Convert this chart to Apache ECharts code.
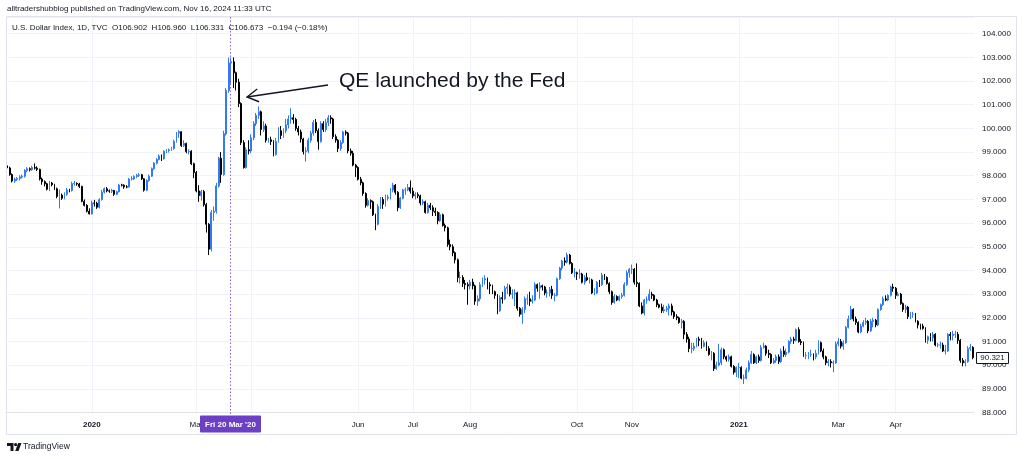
<!DOCTYPE html>
<html>
<head>
<meta charset="utf-8">
<script src="https://cdn.jsdelivr.net/npm/echarts/dist/echarts.min.js"></script>
<style>
html,body{margin:0;padding:0;background:#fff;}
#c{width:1024px;height:459px;}
</style>
</head>
<body>
<div id="c"></div>
<script>
// ---- DATA: daily candles [open, close, low, high], one small array per month ----
const nov2019 = [
[98.42,98.33,98.22,98.48],[98.33,98.05,98.00,98.38],[98.05,97.78,97.72,98.10],[97.78,97.85,97.70,97.92],
[97.85,97.88,97.78,97.95],[97.88,97.95,97.80,98.02],[97.95,97.98,97.88,98.05],[97.98,98.22,97.92,98.28],
[98.22,98.30,98.15,98.36],[98.30,98.26,98.18,98.35],[98.26,98.35,98.20,98.42],[98.35,98.32,98.26,98.52],
[98.32,98.27,98.20,98.40]];
const dec2019 = [
[98.27,97.86,97.80,98.30],[97.86,97.75,97.62,97.92],[97.75,97.66,97.55,97.80],[97.66,97.43,97.38,97.70],
[97.43,97.69,97.35,97.78],[97.69,97.62,97.55,97.74],[97.62,97.45,97.40,97.66],[97.45,97.12,97.05,97.50],
[97.12,97.18,96.62,97.42],[97.18,97.05,96.98,97.25],[97.05,97.22,97.00,97.30],[97.22,97.40,97.15,97.48],
[97.40,97.38,97.30,97.45],[97.38,97.66,97.33,97.75],[97.66,97.68,97.58,97.78],[97.68,97.65,97.58,97.72],
[97.65,97.55,97.48,97.70],[97.55,96.92,96.88,97.58],[96.92,96.75,96.70,97.00],[96.75,96.50,96.45,96.80],
[96.50,96.39,96.36,96.62]];
const jan2020 = [
[96.39,96.85,96.36,96.95],[96.85,96.84,96.70,96.98],[96.84,96.67,96.60,96.90],[96.67,96.99,96.62,97.05],
[96.99,97.31,96.95,97.40],[97.31,97.45,97.25,97.50],[97.45,97.36,97.30,97.52],[97.36,97.35,97.28,97.42],
[97.35,97.38,97.27,97.45],[97.38,97.22,97.15,97.40],[97.22,97.32,97.18,97.37],[97.32,97.61,97.30,97.66],
[97.61,97.60,97.55,97.66],[97.60,97.53,97.45,97.64],[97.53,97.52,97.47,97.60],[97.52,97.86,97.50,97.90],
[97.86,97.87,97.80,97.98],[97.87,97.97,97.82,98.02],[97.97,98.02,97.90,98.08],[98.02,98.04,97.95,98.12],
[98.04,97.87,97.82,98.08],[97.87,97.39,97.33,97.90]];
const feb2020 = [
[97.39,97.80,97.35,97.85],[97.80,97.98,97.75,98.05],[97.98,98.30,97.95,98.35],[98.30,98.53,98.25,98.58],
[98.53,98.69,98.48,98.74],[98.69,98.83,98.65,98.90],[98.83,98.72,98.62,98.90],[98.72,99.03,98.68,99.08],
[99.03,99.06,98.95,99.12],[99.06,99.10,98.98,99.15],[99.10,99.15,99.05,99.22],[99.15,99.45,99.10,99.52],
[99.45,99.80,99.40,99.85],[99.80,99.86,99.60,99.92],[99.86,99.27,99.22,99.88],[99.27,99.36,99.22,99.50],
[99.36,99.02,98.95,99.40],[99.02,99.03,98.90,99.12],[99.03,98.51,98.45,99.08],[98.51,98.13,97.90,98.55]];
const mar2020 = [
[98.13,97.36,97.30,98.20],[97.36,97.16,96.90,97.60],[97.16,97.33,96.95,97.40],[97.33,96.78,96.70,97.40],
[96.78,95.95,95.60,96.85],[95.95,94.90,94.65,96.00],[94.90,96.45,94.80,96.55],[96.45,96.50,96.10,96.70],
[96.50,97.57,96.40,97.70],[97.57,98.74,97.50,98.80],[98.74,98.05,97.70,99.00],[98.05,99.77,98.00,99.90],
[99.77,101.60,99.70,101.70],[101.60,102.76,101.50,102.99],[102.76,102.82,101.90,102.99],[102.82,102.35,101.70,103.00],
[102.35,101.95,101.60,102.40],[101.95,101.05,100.90,102.10],[101.05,99.40,99.30,101.10],[99.40,98.35,98.30,99.50],
[98.35,99.10,98.30,99.20],[99.10,99.05,98.90,99.50]];
const apr2020 = [
[99.05,99.60,98.95,99.75],[99.60,100.20,99.50,100.30],[100.20,100.55,100.10,100.65],[100.55,100.70,100.40,100.93],
[100.70,99.95,99.70,100.75],[99.95,100.10,99.85,100.30],[100.10,99.50,99.40,100.20],[99.50,99.52,99.40,99.60],
[99.52,99.45,99.30,99.65],[99.45,98.90,98.82,99.50],[98.90,99.45,98.85,99.60],[99.45,99.90,99.40,100.05],
[99.90,99.70,99.55,100.10],[99.70,99.90,99.60,100.00],[99.90,100.15,99.80,100.40],[100.15,100.40,100.00,100.55],
[100.40,100.45,100.20,100.85],[100.45,100.38,100.20,100.60],[100.38,100.00,99.90,100.45],[100.00,99.85,99.70,100.10],
[99.85,99.55,99.40,99.95],[99.55,99.02,98.90,99.60]];
const may2020 = [
[99.02,99.05,98.60,99.20],[99.05,99.50,98.95,99.60],[99.50,99.80,99.40,99.90],[99.80,100.25,99.70,100.35],
[100.25,99.90,99.80,100.40],[99.90,99.45,99.10,100.00],[99.45,100.20,99.40,100.30],[100.20,99.95,99.85,100.30],
[99.95,100.25,99.85,100.40],[100.25,100.45,100.10,100.56],[100.45,100.40,100.20,100.55],[100.40,99.65,99.55,100.45],
[99.65,99.50,99.40,99.75],[99.50,99.15,99.00,99.55],[99.15,99.40,99.05,99.50],[99.40,99.85,99.35,99.90],
[99.85,99.80,99.70,99.92],[99.80,99.05,98.95,99.85],[99.05,98.95,98.85,99.15],[98.95,98.45,98.40,99.05],
[98.45,98.35,97.95,98.50]];
const jun2020 = [
[98.35,97.85,97.80,98.40],[97.85,97.70,97.60,97.95],[97.70,97.25,97.15,97.75],[97.25,96.75,96.65,97.30],
[96.75,96.95,96.70,97.05],[96.95,96.90,96.60,97.00],[96.90,96.35,96.30,96.95],[96.35,95.95,95.70,96.40],
[95.95,96.70,95.90,96.80],[96.70,97.00,96.60,97.10],[97.00,96.80,96.60,97.10],[96.80,97.05,96.70,97.20],
[97.05,97.10,96.95,97.20],[97.10,97.40,97.00,97.48],[97.40,97.60,97.30,97.70],[97.60,97.30,97.20,97.65],
[97.30,96.65,96.50,97.35],[96.65,97.05,96.60,97.10],[97.05,97.40,97.00,97.45],[97.40,97.40,97.20,97.50],
[97.40,97.50,97.35,97.65],[97.50,97.35,97.25,97.80]];
const jul2020 = [
[97.35,97.15,97.05,97.50],[97.15,97.20,97.00,97.30],[97.20,97.15,97.05,97.30],[97.15,96.85,96.75,97.20],
[96.85,96.90,96.75,97.00],[96.90,96.45,96.40,96.95],[96.45,96.75,96.40,96.85],[96.75,96.65,96.55,96.85],
[96.65,96.50,96.30,96.75],[96.50,96.45,96.30,96.65],[96.45,96.10,95.95,96.50],[96.10,96.35,96.05,96.45],
[96.35,95.90,95.85,96.40],[95.90,95.80,95.65,95.98],[95.80,95.10,95.00,95.85],[95.10,95.00,94.85,95.30],
[95.00,94.75,94.60,95.10],[94.75,94.45,94.30,94.80],[94.45,93.70,93.50,94.50],[93.70,93.70,93.45,93.95],
[93.70,93.45,93.30,93.80],[93.45,93.40,93.20,93.60],[93.40,93.35,92.55,93.50]];
const aug2020 = [
[93.35,93.50,93.20,93.60],[93.50,93.35,93.20,93.65],[93.35,92.70,92.55,93.40],[92.70,92.80,92.50,92.95],
[92.80,93.40,92.70,93.50],[93.40,93.60,93.30,93.70],[93.60,93.65,93.40,93.80],[93.65,93.40,93.20,93.70],
[93.40,93.35,93.00,93.50],[93.35,93.10,93.00,93.40],[93.10,92.95,92.80,93.15],[92.95,92.30,92.15,93.00],
[92.30,92.85,92.25,92.95],[92.85,92.80,92.60,93.10],[92.80,93.25,92.75,93.35],[93.25,93.30,93.00,93.45],
[93.30,93.00,92.90,93.40],[93.00,93.00,92.80,93.20],[93.00,93.05,92.50,93.20],[93.05,92.40,92.30,93.10],
[92.40,92.15,92.05,92.45]];
const sep2020 = [
[92.15,92.35,91.75,92.45],[92.35,92.80,92.20,92.90],[92.80,92.80,92.55,93.00],[92.80,92.70,92.50,93.10],
[92.70,92.75,92.60,92.95],[92.75,93.40,92.70,93.50],[93.40,93.25,93.10,93.45],[93.25,93.35,92.80,93.50],
[93.35,93.30,93.15,93.40],[93.30,93.05,92.95,93.35],[93.05,93.05,92.85,93.20],[93.05,93.20,92.90,93.30],
[93.20,92.95,92.80,93.35],[92.95,92.95,92.70,93.05],[92.95,93.65,92.90,93.70],[93.65,94.10,93.60,94.15],
[94.10,94.40,94.00,94.45],[94.40,94.35,94.20,94.55],[94.35,94.65,94.30,94.75],[94.65,94.30,94.25,94.70],
[94.30,93.90,93.85,94.35],[93.90,93.90,93.70,94.10]];
const oct2020 = [
[93.90,93.85,93.60,93.95],[93.85,93.85,93.65,94.05],[93.85,93.50,93.45,93.90],[93.50,93.70,93.40,93.80],
[93.70,93.60,93.55,93.90],[93.60,93.60,93.45,93.70],[93.60,93.05,93.00,93.65],[93.05,93.05,92.95,93.25],
[93.05,93.50,93.00,93.55],[93.50,93.40,93.30,93.60],[93.40,93.80,93.35,93.90],[93.80,93.70,93.60,93.85],
[93.70,93.45,93.40,93.75],[93.45,93.10,93.00,93.50],[93.10,92.65,92.55,93.15],[92.65,92.90,92.60,93.00],
[92.90,92.75,92.70,92.95],[92.75,92.90,92.70,92.95],[92.90,92.95,92.80,93.05],[92.95,93.40,92.90,93.50],
[93.40,93.90,93.35,94.00],[93.90,94.05,93.70,94.10]];
const nov2020 = [
[94.05,94.05,93.85,94.25],[94.05,93.50,93.40,94.10],[93.50,93.45,93.30,94.30],[93.45,92.50,92.45,93.50],
[92.50,92.20,92.15,92.65],[92.20,92.75,92.10,92.80],[92.75,92.75,92.60,92.90],[92.75,93.00,92.70,93.20],
[93.00,92.95,92.80,93.10],[92.95,92.75,92.70,93.00],[92.75,92.55,92.45,92.80],[92.55,92.45,92.40,92.60],
[92.45,92.30,92.20,92.60],[92.30,92.35,92.20,92.55],[92.35,92.40,92.25,92.50],[92.40,92.50,92.10,92.60],
[92.50,92.25,92.10,92.60],[92.25,92.05,91.95,92.30],[92.05,92.00,91.90,92.15],[92.00,91.80,91.75,92.05],
[91.80,91.85,91.55,91.95]];
const dec2020 = [
[91.85,91.30,91.10,91.90],[91.30,91.10,90.95,91.40],[91.10,90.70,90.55,91.20],[90.70,90.70,90.50,90.95],
[90.70,90.80,90.60,90.95],[90.80,91.10,90.75,91.15],[91.10,91.05,90.80,91.20],[91.05,90.80,90.70,91.15],
[90.80,90.95,90.75,91.05],[90.95,90.70,90.60,91.00],[90.70,90.45,90.40,90.80],[90.45,90.50,90.20,90.60],
[90.50,89.85,89.75,90.55],[89.85,90.00,89.80,90.15],[90.00,90.10,89.95,90.90],[90.10,90.65,90.00,90.75],
[90.65,90.35,90.25,90.70],[90.35,90.25,90.15,90.40],[90.25,90.35,90.15,90.45],[90.35,89.95,89.90,90.40],
[89.95,89.70,89.60,90.00],[89.70,89.90,89.50,89.95]];
const jan2021 = [
[89.90,89.90,89.45,90.10],[89.90,89.45,89.40,89.95],[89.45,89.45,89.20,89.60],[89.45,89.80,89.40,89.90],
[89.80,90.10,89.70,90.20],[90.10,90.45,90.05,90.60],[90.45,90.10,90.05,90.50],[90.10,90.35,90.05,90.40],
[90.35,90.20,90.10,90.45],[90.20,90.75,90.15,90.85],[90.75,90.80,90.70,90.95],[90.80,90.50,90.40,90.85],
[90.50,90.45,90.30,90.65],[90.45,90.10,90.05,90.50],[90.10,90.20,90.05,90.30],[90.20,90.35,90.10,90.45],
[90.35,90.15,90.05,90.45],[90.15,90.60,90.10,90.70],[90.60,90.45,90.35,90.80],[90.45,90.55,90.35,90.70]];
const feb2021 = [
[90.55,91.00,90.50,91.05],[91.00,91.10,90.90,91.20],[91.10,91.05,90.90,91.20],[91.05,91.50,91.00,91.55],
[91.50,91.00,90.95,91.60],[91.00,90.95,90.85,91.10],[90.95,90.40,90.35,91.00],[90.40,90.40,90.25,90.55],
[90.40,90.45,90.25,90.55],[90.45,90.45,90.35,90.65],[90.45,90.35,90.20,90.50],[90.35,90.50,90.25,90.65],
[90.50,90.95,90.45,91.05],[90.95,90.60,90.55,91.00],[90.60,90.35,90.25,90.70],[90.35,90.10,90.00,90.40],
[90.10,90.15,89.95,90.25],[90.15,90.10,89.90,90.25],[90.10,90.10,89.70,90.20],[90.10,90.90,90.05,91.00]];
const mar2021 = [
[90.90,91.00,90.80,91.15],[91.00,90.80,90.70,91.10],[90.80,90.95,90.65,91.05],[90.95,91.60,90.90,91.65],
[91.60,91.95,91.55,92.10],[91.95,92.35,91.90,92.50],[92.35,91.95,91.85,92.40],[91.95,91.80,91.70,92.05],
[91.80,91.40,91.35,91.85],[91.40,91.65,91.35,91.75],[91.65,91.80,91.60,91.90],[91.80,91.85,91.70,92.00],
[91.85,91.45,91.35,91.90],[91.45,91.85,91.40,91.95],[91.85,91.90,91.60,92.00],[91.90,91.70,91.60,91.95],
[91.70,92.35,91.65,92.40],[92.35,92.55,92.30,92.60],[92.55,92.80,92.50,92.90],[92.80,92.75,92.70,92.95],
[92.75,92.95,92.70,93.00],[92.95,93.30,92.90,93.35],[93.30,93.25,93.10,93.44]];
const apr2021 = [
[93.25,92.95,92.80,93.30],[92.95,93.00,92.90,93.10],[93.00,92.60,92.55,93.05],[92.60,92.35,92.25,92.65],
[92.35,92.45,92.20,92.55],[92.45,92.05,91.95,92.50],[92.05,92.15,91.95,92.25],[92.15,92.15,92.00,92.25],
[92.15,91.85,91.80,92.20],[91.85,91.70,91.55,91.90],[91.70,91.65,91.50,91.75],[91.65,91.55,91.50,91.75],
[91.55,91.05,90.95,91.60],[91.05,91.20,90.90,91.25],[91.20,91.15,91.00,91.35],[91.15,91.30,91.00,91.40],
[91.30,90.85,90.80,91.35],[90.85,90.85,90.75,90.95],[90.85,90.85,90.70,91.00],[90.85,90.60,90.55,90.95],
[90.60,90.60,90.45,90.85],[90.60,91.30,90.55,91.35]];
const may2021 = [
[91.30,91.25,91.05,91.40],[91.25,91.30,91.05,91.45],[91.30,91.30,91.15,91.45],[91.30,91.05,90.90,91.40],
[91.05,90.20,90.10,91.10],[90.20,90.10,89.95,90.30],[90.10,90.15,89.95,90.25],[90.15,90.70,90.10,90.80],
[90.70,90.75,90.60,90.90],[90.75,90.32,90.25,90.80]];

const ohlc = [].concat(nov2019, dec2019, jan2020, feb2020, mar2020, apr2020, may2020, jun2020,
  jul2020, aug2020, sep2020, oct2020, nov2020, dec2020, jan2021, feb2021, mar2021, apr2021, may2021);

// trading calendar (weekdays without these holidays)
const firstDay = '2019-11-13', lastDay = '2021-05-14';
const holidays = ['2019-12-25', '2020-01-01', '2020-12-25', '2021-01-01'];
const dates = [];
for (let t = Date.parse(firstDay + 'T00:00:00Z'); t <= Date.parse(lastDay + 'T00:00:00Z'); t += 86400000) {
  const d = new Date(t), wd = d.getUTCDay(), s = d.toISOString().slice(0, 10);
  if (wd !== 0 && wd !== 6 && holidays.indexOf(s) < 0) dates.push(s);
}

// x-axis tick labels and vertical grid lines
const tickLabels = {'2020-01-02':'2020','2020-03-02':'Mar','2020-06-01':'Jun','2020-07-01':'Jul','2020-08-03':'Aug',
  '2020-10-01':'Oct','2020-11-02':'Nov','2021-01-04':'2021','2021-03-01':'Mar','2021-04-01':'Apr'};
const gridDates = ['2020-01-02','2020-03-02','2020-04-01','2020-06-01','2020-07-01','2020-08-03',
  '2020-10-01','2020-11-02','2021-01-04','2021-03-01','2021-04-01'];
const yMin = 88, yMax = 104.705, yStep = 1;
const lastPrice = 90.321;
const crossDate = '2020-03-20', crossLabel = "Fri 20 Mar '20";
const headerTop = 'alltradershubblog published on TradingView.com, Nov 16, 2024 11:33 UTC';
const headerSymbol = 'U.S. Dollar Index, 1D, TVC  O106.902  H106.960  L106.331  C106.673  \u22120.194 (\u22120.18%)';
const noteText = 'QE launched by the Fed';

const UP = '#3179f5', DOWN = '#000000';
const FONT = '"Liberation Sans", Arial, sans-serif';
const TXT = '#131722';

const chart = echarts.init(document.getElementById('c'), null, {renderer: 'canvas', width: 1024, height: 459});
chart.setOption({
  animation: false,
  backgroundColor: '#ffffff',
  grid: {left: 6, right: 50, top: 17, bottom: 46.5, containLabel: false, outerBoundsMode: 'none'},
  xAxis: {
    type: 'category', data: dates, boundaryGap: true,
    axisLine: {show: true, lineStyle: {color: '#e0e3eb', width: 1}},
    axisTick: {show: false},
    axisLabel: {
      interval: (i, v) => tickLabels[v] !== undefined,
      formatter: v => {
        const l = tickLabels[v] || '';
        return /^\d{4}$/.test(l) ? '{y|' + l + '}' : l;
      },
      fontSize: 8, color: TXT, fontFamily: FONT, margin: 8,
      rich: {y: {fontSize: 8, fontWeight: 'bold', color: TXT, fontFamily: FONT}}
    },
    splitLine: {show: true, alignWithLabel: true, interval: (i, v) => gridDates.indexOf(v) >= 0,
      lineStyle: {color: '#f0f3fa', width: 1}}
  },
  yAxis: {
    type: 'value', position: 'right', min: yMin, max: yMax, interval: yStep,
    axisLine: {show: false}, axisTick: {show: false},
    splitLine: {show: true, lineStyle: {color: '#f0f3fa', width: 1}},
    axisLabel: {
      formatter: v => Math.abs(v - Math.round(v)) < 1e-6 ? v.toFixed(3) : '',
      fontSize: 8, color: TXT, fontFamily: FONT, margin: 8, showMaxLabel: true
    }
  },
  series: [{
    type: 'candlestick', data: ohlc, barWidth: 1.4, silent: true,
    itemStyle: {color: UP, color0: DOWN, borderColor: UP, borderColor0: DOWN, borderWidth: 1}
  }]
});

// annotations & chrome
const cx = Math.round(chart.convertToPixel({xAxisIndex: 0}, crossDate)) - 0.5;
const py = chart.convertToPixel({yAxisIndex: 0}, lastPrice);
const tip = [247, 97], tail = [328, 85];
const ang = Math.atan2(tail[1] - tip[1], tail[0] - tip[0]);
const wing = (a) => [tip[0] + 13 * Math.cos(ang + a), tip[1] + 13 * Math.sin(ang + a)];

chart.setOption({
  graphic: [
    {type: 'rect', silent: true, z: 50, shape: {x: 6.5, y: 16.5, width: 1010, height: 418},
      style: {fill: 'none', stroke: '#e0e3eb', lineWidth: 1}},
    {type: 'text', silent: true, z: 50, style: {x: 7, y: 9, text: headerTop, font: '8px ' + FONT, fill: TXT, verticalAlign: 'middle'}},
    {type: 'text', silent: true, z: 50, style: {x: 12, y: 28, text: headerSymbol, font: '8px ' + FONT, fill: TXT, verticalAlign: 'middle'}},
    {type: 'line', silent: true, z: 60, shape: {x1: cx, y1: 17, x2: cx, y2: 416},
      style: {stroke: '#8a5cd6', lineWidth: 1, lineDash: [1.5, 2]}},
    {type: 'rect', silent: true, z: 70, shape: {x: cx - 30.5, y: 415.5, width: 61, height: 17, r: 1},
      style: {fill: '#6c3fc5'}},
    {type: 'text', silent: true, z: 71, style: {x: cx, y: 424.5, text: crossLabel, font: 'bold 8px ' + FONT,
      fill: '#ffffff', align: 'center', verticalAlign: 'middle'}},
    {type: 'rect', silent: true, z: 70, shape: {x: 976.5, y: Math.round(py) - 5.5, width: 32, height: 11},
      style: {fill: '#ffffff', stroke: TXT, lineWidth: 1}},
    {type: 'text', silent: true, z: 71, style: {x: 992.5, y: Math.round(py), text: lastPrice.toFixed(3), font: '8px ' + FONT,
      fill: TXT, align: 'center', verticalAlign: 'middle'}},
    {type: 'polyline', silent: true, z: 80, shape: {points: [tail, tip]}, style: {stroke: TXT, lineWidth: 1.4, fill: 'none'}},
    {type: 'polyline', silent: true, z: 80, shape: {points: [wing(0.52), tip, wing(-0.52)]}, style: {stroke: TXT, lineWidth: 1.4, fill: 'none'}},
    {type: 'text', silent: true, z: 80, style: {x: 339, y: 81, text: noteText, font: '21px ' + FONT, fill: TXT, verticalAlign: 'middle'}},
    // TradingView footer logo
    {type: 'polygon', silent: true, z: 50, shape: {points: [[7,443],[13.5,443],[13.5,451],[10.5,451],[10.5,446],[7,446]]}, style: {fill: TXT}},
    {type: 'circle', silent: true, z: 50, shape: {cx: 15.6, cy: 444.6, r: 1.6}, style: {fill: TXT}},
    {type: 'polygon', silent: true, z: 50, shape: {points: [[18.2,443],[21.5,443],[18.5,451],[15.2,451]]}, style: {fill: TXT}},
    {type: 'text', silent: true, z: 50, style: {x: 23, y: 447, text: 'TradingView', font: '8.5px ' + FONT, fill: TXT, verticalAlign: 'middle'}}
  ]
});
</script>
</body>
</html>
